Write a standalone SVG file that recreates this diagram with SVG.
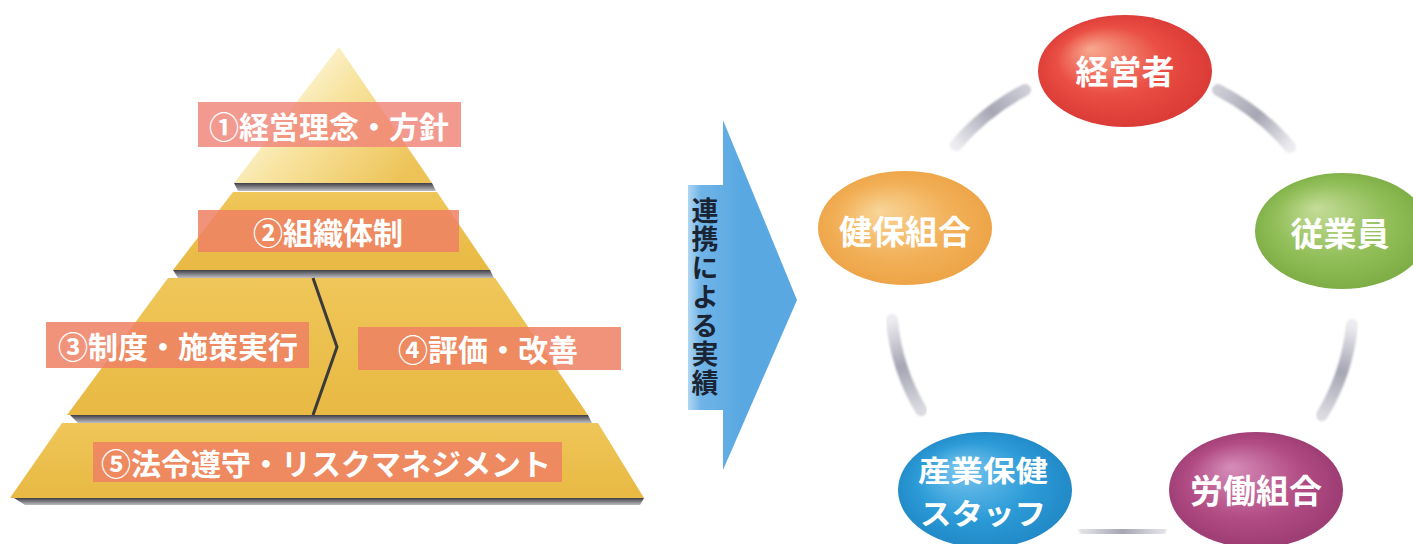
<svg xmlns="http://www.w3.org/2000/svg" width="1413" height="544" viewBox="0 0 1413 544">
<defs>
<style>
.lbl{font-family:"Noto Sans CJK JP","Noto Sans",sans-serif;font-weight:bold;font-size:30px;fill:#fff;text-anchor:middle;dominant-baseline:central}
.node{font-family:"Noto Sans CJK JP","Noto Sans",sans-serif;font-weight:bold;font-size:33px;fill:#fff;text-anchor:middle;dominant-baseline:central}
.node2{font-family:"Noto Sans CJK JP","Noto Sans",sans-serif;font-weight:bold;font-size:29px;fill:#fff;text-anchor:middle;dominant-baseline:central}
.vt{font-family:"Noto Sans CJK JP","Noto Sans",sans-serif;font-weight:bold;font-size:27px;fill:#1b2433;writing-mode:vertical-rl;letter-spacing:1.7px}
.tier{fill:url(#gold)}
.shadow{fill:url(#shd)}
.box1{fill:#f08478;opacity:0.82}
.box{fill:#ee8064;opacity:0.85}
.arc{fill:none;stroke-width:12;stroke-linecap:round;filter:url(#soft)}
</style>
<linearGradient id="gold" x1="0" y1="0" x2="0" y2="1">
<stop offset="0" stop-color="#efc659"/>
<stop offset="1" stop-color="#e8b943"/>
</linearGradient>
<linearGradient id="top" gradientUnits="userSpaceOnUse" x1="260" y1="60" x2="400" y2="185">
<stop offset="0" stop-color="#fffef6"/>
<stop offset="0.45" stop-color="#f8e4a0"/>
<stop offset="1" stop-color="#edc256"/>
</linearGradient>
<linearGradient id="shd" x1="0" y1="0" x2="0" y2="1">
<stop offset="0" stop-color="#3e3e44"/>
<stop offset="1" stop-color="#bdbdc2"/>
</linearGradient>
<linearGradient id="blue" gradientUnits="userSpaceOnUse" x1="680" y1="0" x2="740" y2="0">
<stop offset="0" stop-color="#d6ebf9"/>
<stop offset="0.35" stop-color="#6fb4e7"/>
<stop offset="1" stop-color="#5aa8e2"/>
</linearGradient>
<radialGradient id="gRed" cx="0.5" cy="0.5" r="0.55" fx="0.3" fy="0.3">
<stop offset="0" stop-color="#f7a88e"/><stop offset="0.55" stop-color="#ea4e44"/><stop offset="1" stop-color="#d83834"/>
</radialGradient>
<radialGradient id="gOra" cx="0.5" cy="0.5" r="0.55" fx="0.35" fy="0.35">
<stop offset="0" stop-color="#f8d598"/><stop offset="0.6" stop-color="#f2b058"/><stop offset="1" stop-color="#eda244"/>
</radialGradient>
<radialGradient id="gGrn" cx="0.5" cy="0.5" r="0.55" fx="0.35" fy="0.3">
<stop offset="0" stop-color="#c4dc98"/><stop offset="0.6" stop-color="#91be58"/><stop offset="1" stop-color="#7aaa42"/>
</radialGradient>
<radialGradient id="gBlu" cx="0.5" cy="0.5" r="0.55" fx="0.35" fy="0.3">
<stop offset="0" stop-color="#7cc6ef"/><stop offset="0.6" stop-color="#2c9bd7"/><stop offset="1" stop-color="#1f86c4"/>
</radialGradient>
<radialGradient id="gPur" cx="0.5" cy="0.5" r="0.55" fx="0.35" fy="0.3">
<stop offset="0" stop-color="#d58cb8"/><stop offset="0.6" stop-color="#b24c84"/><stop offset="1" stop-color="#983a70"/>
</radialGradient>
<linearGradient id="arcA" gradientUnits="userSpaceOnUse" x1="956" y1="145" x2="1025" y2="90"><stop offset="0" stop-color="#ececf0"/><stop offset="0.55" stop-color="#a6a6b4"/><stop offset="1" stop-color="#cdcdd6"/></linearGradient>
<linearGradient id="arcB" gradientUnits="userSpaceOnUse" x1="1218" y1="90" x2="1290" y2="147"><stop offset="0" stop-color="#cdcdd6"/><stop offset="0.5" stop-color="#a6a6b4"/><stop offset="1" stop-color="#ececf0"/></linearGradient>
<linearGradient id="arcC" gradientUnits="userSpaceOnUse" x1="1352" y1="325" x2="1322" y2="415"><stop offset="0" stop-color="#ececf0"/><stop offset="0.5" stop-color="#a6a6b4"/><stop offset="1" stop-color="#dadae0"/></linearGradient>
<linearGradient id="arcD" gradientUnits="userSpaceOnUse" x1="1160" y1="530" x2="1085" y2="530"><stop offset="0" stop-color="#dedee4"/><stop offset="0.5" stop-color="#a6a6b4"/><stop offset="1" stop-color="#dedee4"/></linearGradient>
<linearGradient id="arcE" gradientUnits="userSpaceOnUse" x1="921" y1="410" x2="892" y2="320"><stop offset="0" stop-color="#dadae0"/><stop offset="0.5" stop-color="#a6a6b4"/><stop offset="1" stop-color="#ececf0"/></linearGradient>
<filter id="soft" x="-20%" y="-20%" width="140%" height="140%"><feGaussianBlur stdDeviation="1.2"/></filter>
</defs>
<rect width="1413" height="544" fill="#ffffff"/>

<g id="pyramid">
<polygon class="shadow" points="234,183 432,183 436,191 238,191"/>
<polygon class="shadow" points="173,270 490,270 494,278 178,278"/>
<polygon class="shadow" points="70,415 588,415 592,423 78,423"/>
<polygon class="shadow" points="14,498 644,498 640,505 25,505"/>
<polygon id="tier1" fill="url(#top)" points="339,47 432,183 234,183"/>
<polygon id="tier2" class="tier" points="233,192 437,192 490,270 173,270"/>
<polygon id="tier3" class="tier" points="168,278 495,278 588,415 67,415"/>
<polyline points="313,278 337,347 313,415" fill="none" stroke="#3a3a3a" stroke-width="3"/>
<polygon id="tier5" class="tier" points="62,423 598,423 644,498 10,498"/>
</g>

<g id="label1"><rect class="box1" x="198" y="102" width="263" height="45"/><text class="lbl" x="329" y="125">①経営理念・方針</text></g>
<g id="label2"><rect class="box" x="198" y="210" width="261" height="42"/><text class="lbl" x="328" y="231">②組織体制</text></g>
<g id="label3"><rect class="box" x="46" y="322" width="263" height="46"/><text class="lbl" x="178" y="345">③制度・施策実行</text></g>
<g id="label4"><rect class="box" x="358" y="327" width="263" height="43"/><text class="lbl" x="488" y="348">④評価・改善</text></g>
<g id="label5"><rect class="box" x="93" y="442" width="469" height="40"/><text class="lbl" x="326" y="462">⑤法令遵守・リスクマネジメント</text></g>

<g id="arrow">
<polygon fill="url(#blue)" points="688,185 723,185 723,120 797,300 723,470 723,410 688,410"/>
<text class="vt" x="705" y="197">連携による実績</text>
</g>

<g id="connectors">
<path class="arc" stroke="url(#arcA)" d="M 956 145 A 235 222 0 0 1 1025 90"/>
<path class="arc" stroke="url(#arcB)" d="M 1218 90 A 235 222 0 0 1 1290 147"/>
<path class="arc" stroke="url(#arcC)" d="M 1352 325 A 235 222 0 0 1 1322 415"/>
<path class="arc" stroke="url(#arcD)" d="M 1160 530 A 235 222 0 0 1 1085 530"/>
<path class="arc" stroke="url(#arcE)" d="M 921 410 A 235 222 0 0 1 892 320"/>
</g>

<g id="node-keieisha"><ellipse cx="1125" cy="71" rx="87" ry="56" fill="url(#gRed)"/><text class="node" x="1125" y="70">経営者</text></g>
<g id="node-kenpo"><ellipse cx="905" cy="228" rx="87" ry="57" fill="url(#gOra)"/><text class="node" x="905" y="230">健保組合</text></g>
<g id="node-jugyoin"><ellipse cx="1342" cy="231" rx="87" ry="58" fill="url(#gGrn)"/><text class="node" x="1340" y="232">従業員</text></g>
<g id="node-sangyo"><ellipse cx="985" cy="490" rx="87" ry="58" fill="url(#gBlu)"/><text class="node2"><tspan x="983" y="469" textLength="130" lengthAdjust="spacingAndGlyphs">産業保健</tspan><tspan x="983" y="512" textLength="126" lengthAdjust="spacingAndGlyphs">スタッフ</tspan></text></g>
<g id="node-rodo"><ellipse cx="1256" cy="490" rx="87" ry="58" fill="url(#gPur)"/><text class="node" x="1256" y="489">労働組合</text></g>
</svg>
